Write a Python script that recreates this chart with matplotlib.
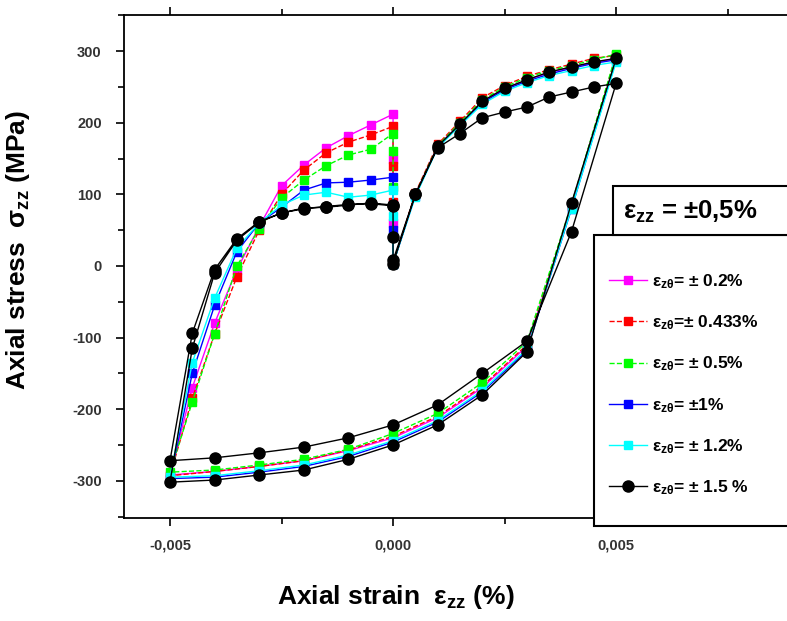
import matplotlib
matplotlib.use("Agg")
import matplotlib.pyplot as plt
from matplotlib.ticker import MultipleLocator, FuncFormatter
from matplotlib.patches import Rectangle

plt.rcParams['font.family'] = ['Liberation Sans', 'DejaVu Sans']
plt.rcParams['font.weight'] = 'bold'
plt.rcParams['axes.unicode_minus'] = False
plt.rcParams['mathtext.fontset'] = 'custom'
plt.rcParams['mathtext.rm'] = 'Liberation Sans:bold'
plt.rcParams['mathtext.it'] = 'Liberation Sans:bold'
plt.rcParams['mathtext.bf'] = 'Liberation Sans:bold'
plt.rcParams['mathtext.sf'] = 'Liberation Sans:bold'

# strain path of one cycle: load to +0.5%, unload to -0.5%, reload to 0, stress drop at 0
load_strain = [0.0, 0.0005, 0.001, 0.0015, 0.002, 0.0025, 0.003, 0.0035, 0.004, 0.0045, 0.005]
unload_strain = [0.004, 0.003, 0.002, 0.001, 0.0, -0.001, -0.002, -0.003, -0.004, -0.005]
reload_strain = [-0.0045, -0.004, -0.0035, -0.003, -0.0025, -0.002, -0.0015, -0.001, -0.0005, 0.0]
drop_strain = [0.0, 0.0, 0.0]

strain = load_strain + unload_strain + reload_strain + drop_strain
# black curve runs a second cycle
strain_black = (load_strain + unload_strain + reload_strain + drop_strain[:2]
                + load_strain[1:] + unload_strain + reload_strain)

# axial stress (MPa)
stress_02 = [3, 100, 168, 198, 230, 248, 260, 270, 278, 284, 290,
             82, -112, -170, -212, -240, -258, -272, -280, -287, -292,
             -170, -80, -5, 55, 112, 141, 165, 182, 197, 212,
             150, 60, 3]
stress_0433 = [3, 102, 170, 202, 235, 252, 265, 274, 282, 290, 294,
               84, -110, -168, -210, -238, -257, -272, -280, -287, -293,
               -185, -95, -15, 50, 100, 134, 158, 173, 183, 195,
               140, 90, 3]
stress_05 = [3, 100, 168, 200, 232, 250, 263, 273, 280, 288, 296,
             86, -106, -163, -206, -234, -256, -270, -278, -285, -288,
             -190, -95, 0, 52, 95, 120, 140, 155, 163, 185,
             160, 110, 3]
stress_1 = [3, 98, 166, 198, 228, 246, 258, 268, 276, 283, 288,
            80, -118, -176, -218, -246, -266, -280, -288, -295, -297,
            -150, -55, 20, 60, 82, 106, 116, 117, 120, 124,
            85, 50, 3]
stress_12 = [3, 97, 165, 196, 226, 244, 256, 266, 273, 280, 285,
             80, -116, -174, -216, -244, -264, -278, -286, -293, -295,
             -135, -45, 25, 60, 85, 99, 103, 96, 99, 106,
             70, 40, 3]
stress_15 = [3, 100, 167, 198, 230, 248, 260, 271, 278, 285, 290,
             88, -120, -180, -222, -250, -270, -285, -292, -299, -302,
             -115, -10, 36, 61, 74, 81, 82, 85, 88, 85,
             40, 8,
             100, 165, 185, 207, 215, 222, 236, 243, 250, 255,
             48, -105, -150, -194, -222, -240, -253, -261, -268, -272,
             -94, -5, 38, 62, 74, 80, 83, 86, 87, 84]

labels = [r'$\varepsilon_{z\theta}$= ± 0.2%',
          r'$\varepsilon_{z\theta}$=± 0.433%',
          r'$\varepsilon_{z\theta}$= ± 0.5%',
          r'$\varepsilon_{z\theta}$= ±1%',
          r'$\varepsilon_{z\theta}$= ± 1.2%',
          r'$\varepsilon_{z\theta}$= ± 1.5 %']

fig = plt.figure(figsize=(7.87, 6.21), dpi=100)
ax = fig.add_axes([0.1576, 0.1659, 0.8424, 0.8099])

series = [
    (strain, stress_02, '#ff00ff', '-', 's', 6),
    (strain, stress_0433, '#ff0000', '--', 's', 6),
    (strain, stress_05, '#00ff00', '--', 's', 6),
    (strain, stress_1, '#0000ff', '-', 's', 6),
    (strain, stress_12, '#00ffff', '-', 's', 6),
    (strain_black, stress_15, 'black', '-', 'o', 8),
]

handles = []
for x, y, col, ls, mk, ms in series:
    line, = ax.plot(x, y, color=col, linestyle=ls, linewidth=1.0,
                    marker=mk, markersize=ms, markeredgecolor=col,
                    markerfacecolor=col)
    handles.append(line)

ax.set_xlim(-0.00603, 0.00883)
ax.set_ylim(-352, 350.5)

ax.xaxis.set_major_locator(MultipleLocator(0.005))
ax.xaxis.set_minor_locator(MultipleLocator(0.0025))
ax.yaxis.set_major_locator(MultipleLocator(100))
ax.yaxis.set_minor_locator(MultipleLocator(50))
ax.xaxis.set_major_formatter(FuncFormatter(lambda v, p: f"{v:.3f}".replace('.', ',').replace('-0,000', '0,000')))

ax.spines['right'].set_visible(False)
for s in ['left', 'top', 'bottom']:
    ax.spines[s].set_linewidth(1.3)

ax.tick_params(axis='x', which='both', top=True, bottom=True, direction='out',
               labelsize=10.5, labelcolor='#333333', pad=9)
ax.tick_params(axis='y', which='both', left=True, right=False, direction='out',
               labelsize=10.5, labelcolor='#333333', pad=10)
ax.tick_params(which='major', length=6, width=1.2)
ax.tick_params(which='minor', length=4, width=1.2)

ax.set_xlabel(r'Axial strain  $\varepsilon_{zz}$ (%)', fontsize=19, fontweight='bold',
              va='center')
ax.xaxis.set_label_coords(0.41, -0.157)
ax.set_ylabel(r'Axial stress  $\sigma_{zz}$ (MPa)', fontsize=19, fontweight='bold')
ax.yaxis.set_label_coords(-0.139, 0.533)

# legend boxes
fig.patches.append(Rectangle((0.7548, 0.153), 0.3, 0.4686, transform=fig.transFigure,
                             facecolor='white', edgecolor='black', linewidth=1.5, zorder=2))
fig.patches.append(Rectangle((0.7789, 0.6216), 0.3, 0.0789, transform=fig.transFigure,
                             facecolor='white', edgecolor='black', linewidth=1.5, zorder=2))
fig.text(0.792, 0.659, r'$\varepsilon_{zz}$ = ±0,5%', fontsize=18.5, fontweight='bold',
         va='center', ha='left', zorder=3)

leg = fig.legend(handles, labels, loc='upper left', bbox_to_anchor=(0.765, 0.573),
                 frameon=False, fontsize=12.5, handlelength=2.2, handletextpad=0.3,
                 labelspacing=1.3, borderaxespad=0)
leg.set_zorder(3)

fig.savefig("out.png", dpi=100)
